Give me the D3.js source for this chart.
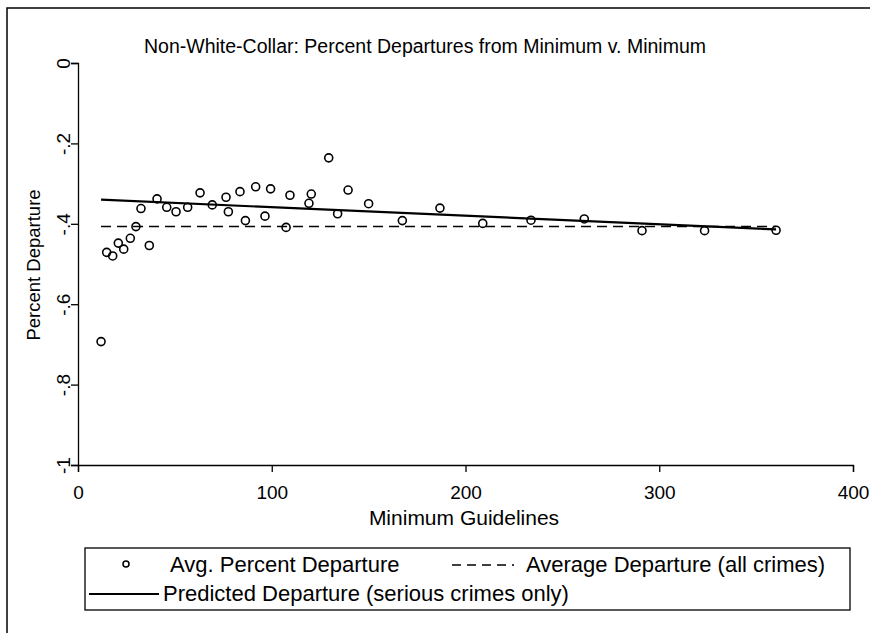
<!DOCTYPE html>
<html>
<head>
<meta charset="utf-8">
<script src="https://cdn.jsdelivr.net/npm/d3@7"></script>
<style>
  body { margin: 0; background: #fff; }
  svg text { font-family: "Liberation Sans", Arial, sans-serif; fill: #000; }
</style>
</head>
<body>
<svg width="870" height="633"></svg>
<script>
// Minimum guideline (months) and average percent departure for each point
var minGuide = [11.9, 14.8, 17.9, 20.8, 23.6, 27.0, 29.9, 32.5, 36.8, 40.8,
                45.8, 50.6, 56.6, 63.0, 69.3, 76.4, 77.6, 83.6, 86.4, 91.7,
                96.5, 99.4, 107.4, 109.4, 119.2, 120.4, 129.4, 134.0, 139.4, 150.0,
                167.4, 186.8, 208.9, 233.8, 261.3, 291.1, 323.4, 360.3];
var avgDeparture = [-.693, -.471, -.480, -.448, -.463, -.436, -.407, -.362, -.454, -.338,
                    -.359, -.370, -.359, -.323, -.353, -.334, -.370, -.320, -.392, -.308,
                    -.381, -.313, -.409, -.329, -.349, -.326, -.236, -.375, -.316, -.350,
                    -.392, -.361, -.399, -.391, -.388, -.417, -.417, -.416];

// predicted line (serious crimes only) end points
var predX = [11.9, 360.3];
var predY = [-.340, -.414];
// overall average departure (all crimes)
var allCrimesAvg = -.407;

var xTicks = [0, 100, 200, 300, 400];
var yTicks = [0, -.2, -.4, -.6, -.8, -1];
var yTickLabels = ["0", "-.2", "-.4", "-.6", "-.8", "-1"];

var svg = d3.select("svg");

// outer frame (open to the right and bottom, as in the scan)
svg.append("rect")
  .attr("x", 7).attr("y", 8)
  .attr("width", 900).attr("height", 700)
  .attr("fill", "none").attr("stroke", "#000").attr("stroke-width", 1.5);

var x = d3.scaleLinear().domain([0, 400]).range([78, 853]);
var y = d3.scaleLinear().domain([-1, 0]).range([465, 63]);

// axes
var xAxis = svg.append("g")
  .attr("transform", "translate(0,465)")
  .call(d3.axisBottom(x).tickValues(xTicks).tickSize(7).tickFormat(d3.format("d")));
xAxis.selectAll("text").attr("font-size", 19).attr("dy", 0).attr("y", 34);

var yAxis = svg.append("g")
  .attr("transform", "translate(78,0)")
  .call(d3.axisLeft(y).tickValues(yTicks).tickSize(7).tickFormat(function(d, i) { return yTickLabels[i]; }));
yAxis.selectAll("text")
  .attr("font-size", 19)
  .attr("x", null).attr("dy", null)
  .attr("text-anchor", "middle")
  .attr("transform", "translate(-8,0) rotate(-90)");

svg.selectAll(".domain, .tick line").attr("stroke", "#000").attr("stroke-width", 1.3);

// title and axis titles
svg.append("text")
  .attr("x", 425).attr("y", 53)
  .attr("text-anchor", "middle").attr("font-size", 19.5)
  .text("Non-White-Collar: Percent Departures from Minimum v. Minimum");

svg.append("text")
  .attr("x", 464).attr("y", 525)
  .attr("text-anchor", "middle").attr("font-size", 21)
  .text("Minimum Guidelines");

svg.append("text")
  .attr("transform", "translate(40,265) rotate(-90)")
  .attr("text-anchor", "middle").attr("font-size", 18.5)
  .text("Percent Departure");

// average departure (dashed)
svg.append("line")
  .attr("x1", x(predX[0])).attr("x2", x(predX[1]))
  .attr("y1", y(allCrimesAvg)).attr("y2", y(allCrimesAvg))
  .attr("stroke", "#000").attr("stroke-width", 1.5)
  .attr("stroke-dasharray", "10,6");

// predicted line (solid)
svg.append("line")
  .attr("x1", x(predX[0])).attr("x2", x(predX[1]))
  .attr("y1", y(predY[0])).attr("y2", y(predY[1]))
  .attr("stroke", "#000").attr("stroke-width", 2.2);

// points
svg.append("g").selectAll("circle")
  .data(minGuide)
  .enter().append("circle")
  .attr("cx", function(d) { return x(d); })
  .attr("cy", function(d, i) { return y(avgDeparture[i]); })
  .attr("r", 4)
  .attr("fill", "none")
  .attr("stroke", "#000")
  .attr("stroke-width", 1.6);

// legend
var lg = svg.append("g");
lg.append("rect")
  .attr("x", 85).attr("y", 548)
  .attr("width", 765).attr("height", 62)
  .attr("fill", "#fff").attr("stroke", "#000").attr("stroke-width", 1.3);

lg.append("circle")
  .attr("cx", 126).attr("cy", 564).attr("r", 3)
  .attr("fill", "none").attr("stroke", "#000").attr("stroke-width", 1.5);
lg.append("text").attr("x", 170).attr("y", 572).attr("font-size", 22)
  .text("Avg. Percent Departure");

lg.append("line")
  .attr("x1", 452).attr("x2", 514).attr("y1", 565).attr("y2", 565)
  .attr("stroke", "#000").attr("stroke-width", 1.3).attr("stroke-dasharray", "9,6");
lg.append("text").attr("x", 526).attr("y", 572).attr("font-size", 22)
  .text("Average Departure (all crimes)");

lg.append("line")
  .attr("x1", 89).attr("x2", 159).attr("y1", 594).attr("y2", 594)
  .attr("stroke", "#000").attr("stroke-width", 2);
lg.append("text").attr("x", 163).attr("y", 601).attr("font-size", 22)
  .text("Predicted Departure (serious crimes only)");
</script>
</body>
</html>
